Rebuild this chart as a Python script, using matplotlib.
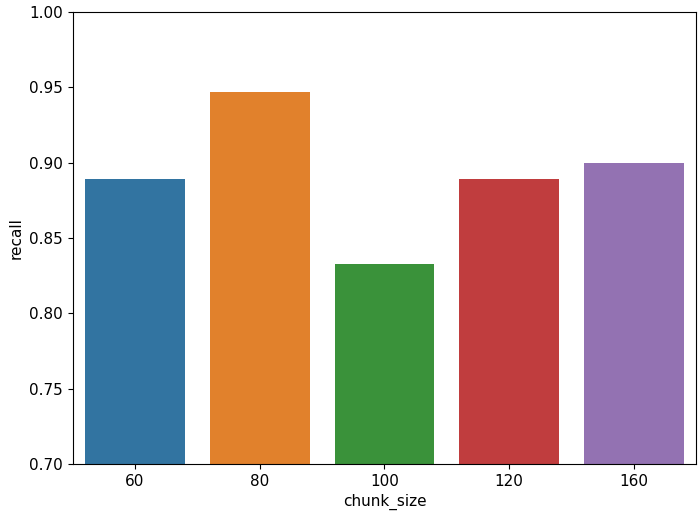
import matplotlib
matplotlib.use("Agg")
import matplotlib.pyplot as plt
import seaborn as sns
import pandas as pd

# data
chunk_sizes = ["60", "80", "100", "120", "160"]
recall = [0.889, 0.947, 0.833, 0.889, 0.900]

df = pd.DataFrame({"chunk_size": chunk_sizes, "recall": recall})

fig = plt.figure(figsize=(6.99, 5.19), dpi=100)
ax = fig.add_axes([0.104, 0.106, 0.892, 0.871])

sns.barplot(data=df, x="chunk_size", y="recall", hue="chunk_size",
            palette="tab10", saturation=0.75, legend=False, ax=ax)
ax.set_ylim(0.7, 1.0)
ax.tick_params(labelsize=11)
ax.set_xlabel("chunk_size", fontsize=11)
ax.set_ylabel("recall", fontsize=11)

fig.savefig("out.png", dpi=100)
